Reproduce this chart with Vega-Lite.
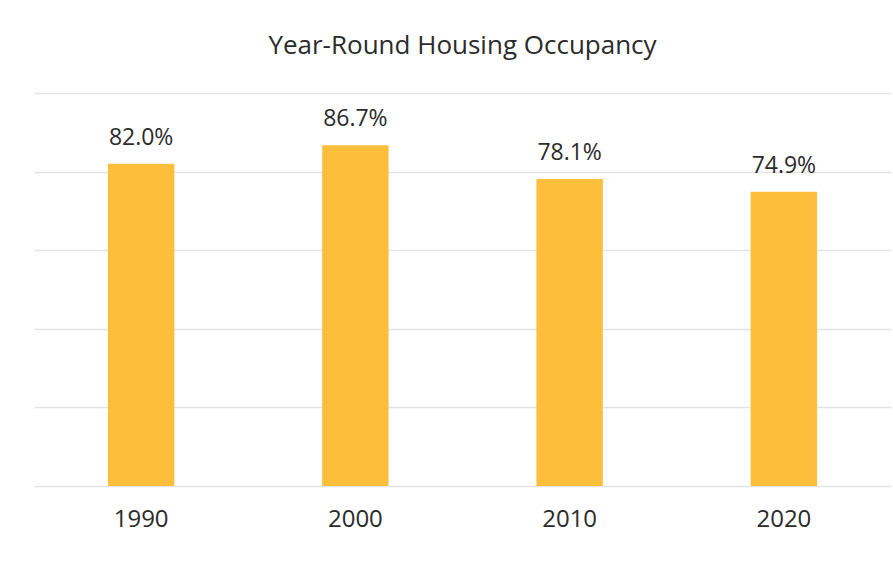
{
  "$schema": "https://vega.github.io/schema/vega-lite/v6.json",
  "autosize": {"type": "none"},
  "width": 857,
  "height": 393,
  "padding": {"left": 34, "top": 93, "right": 2, "bottom": 76},
  "background": "white",
  "title": {
    "text": "Year-Round Housing Occupancy",
    "font": "Open Sans",
    "fontSize": 26,
    "fontWeight": "normal",
    "color": "#2b2b2b",
    "anchor": "middle",
    "offset": 34
  },
  "config": {"view": {"stroke": null}},
  "data": {
    "values": [
      {"year": "1990", "occupancy": 0.820},
      {"year": "2000", "occupancy": 0.867},
      {"year": "2010", "occupancy": 0.781},
      {"year": "2020", "occupancy": 0.749}
    ]
  },
  "encoding": {
    "x": {
      "field": "year",
      "type": "nominal",
      "scale": {"paddingInner": 0.69, "paddingOuter": 0.345},
      "axis": {
        "title": null,
        "labelAngle": 0,
        "labelFont": "Open Sans",
        "labelFontSize": 24,
        "labelColor": "#2b2b2b",
        "labelPadding": 21,
        "domain": false,
        "ticks": false,
        "grid": false
      }
    },
    "y": {
      "field": "occupancy",
      "type": "quantitative",
      "scale": {"domain": [0, 1]},
      "axis": {
        "title": null,
        "labels": false,
        "domain": false,
        "ticks": false,
        "values": [0, 0.2, 0.4, 0.6, 0.8, 1.0],
        "gridColor": "#e4e4e4",
        "gridWidth": 1.5
      }
    }
  },
  "layer": [
    {"mark": {"type": "bar", "color": "#FDBE3C"}},
    {
      "mark": {
        "type": "text",
        "baseline": "alphabetic",
        "dy": -19,
        "font": "Open Sans",
        "fontSize": 23,
        "color": "#2b2b2b"
      },
      "encoding": {
        "text": {"field": "occupancy", "type": "quantitative", "format": ".1%"}
      }
    }
  ]
}
